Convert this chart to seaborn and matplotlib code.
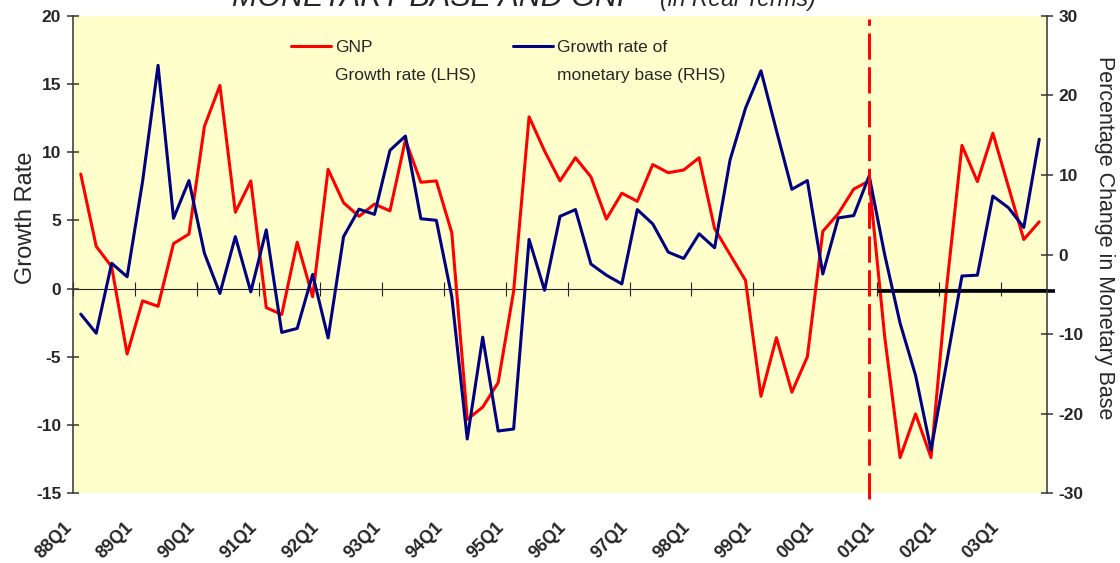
import numpy as np
import pandas as pd
import matplotlib
matplotlib.use("Agg")
import matplotlib.pyplot as plt
from matplotlib import font_manager
from matplotlib.lines import Line2D
from matplotlib.transforms import ScaledTranslation
import seaborn as sns

# %% Data, quarterly 88Q1 .. 03Q3
gnp_growth = [8.4, 3.1, 1.6, -4.8, -0.9, -1.3, 3.3, 4.0,
              11.9, 14.9, 5.6, 7.9, -1.4, -1.9, 3.4, -0.6,
              8.75, 6.3, 5.3, 6.2, 5.7, 10.9, 7.8, 7.9,
              4.1, -9.6, -8.7, -6.9, -0.2, 12.6, 10.1, 7.9,
              9.6, 8.2, 5.1, 7.0, 6.4, 9.1, 8.5, 8.7,
              9.6, 4.4, 2.5, 0.6, -7.9, -3.6, -7.6, -5.0,
              4.2, 5.5, 7.3, 7.9, -3.5, -12.4, -9.2, -12.4,
              0.0, 10.5, 7.85, 11.4, 7.5, 3.6, 4.9]
base_growth = [-7.5, -9.9, -1.1, -2.8, 9.2, 23.8, 4.55, 9.3,
               0.15, -4.9, 2.25, -4.7, 3.1, -9.8, -9.3, -2.5,
               -10.5, 2.25, 5.7, 5.05, 13.1, 14.9, 4.5, 4.3,
               -5.3, -23.2, -10.4, -22.2, -21.95, 1.9, -4.5, 4.8,
               5.65, -1.2, -2.6, -3.7, 5.65, 3.85, 0.3, -0.5,
               2.6, 0.85, 11.9, 18.4, 23.1, 15.6, 8.2, 9.3,
               -2.45, 4.6, 4.9, 9.9, 0.0, -8.65, -15.2, -24.6,
               -13.7, -2.7, -2.6, 7.35, 5.9, 3.4, 14.5]
quarters = [f"{y % 100:02d}Q{q}" for y in range(1988, 2004) for q in range(1, 5)][:len(gnp_growth)]
year_labels = ['88Q1', '89Q1', '90Q1', '91Q1', '92Q1', '93Q1', '94Q1', '95Q1',
               '96Q1', '97Q1', '98Q1', '99Q1', '00Q1', '01Q1', '02Q1', '03Q1']
break_quarter = '00Q4'   # where the dashed marker sits

df = pd.DataFrame({'quarter': quarters, 'gnp': gnp_growth, 'base': base_growth})
df['pos'] = np.arange(len(df))

# %% Style
sns.set_style('white')
plt.rcParams['font.family'] = ['Liberation Sans', 'DejaVu Sans']
plt.rcParams['axes.unicode_minus'] = False

# narrow face for tick labels / legend if it is installed
try:
    font_manager.findfont(font_manager.FontProperties(family='Liberation Sans Narrow'),
                          fallback_to_default=False)
    narrow = ['Liberation Sans Narrow']
    tick_size, xtick_size, leg_size = 14, 14, 15
except ValueError:
    narrow = ['Liberation Sans']
    tick_size, xtick_size, leg_size = 12.5, 13, 12.5

fig = plt.figure(figsize=(11.2, 5.63), dpi=100)
ax = fig.add_axes([0.0652, 0.1243, 0.8696, 0.8473])
ax.set_facecolor('#FFFFCC')

sns.lineplot(data=df, x='pos', y='gnp', ax=ax, color='#FF0000', linewidth=2.2)
ax2 = ax.twinx()
sns.lineplot(data=df, x='pos', y='base', ax=ax2, color='#000080', linewidth=2.2)

n = len(df)
ax.set_xlim(-0.5, n - 0.5)
ax.set_ylim(-15, 20)
ax2.set_ylim(-30, 30)
ax.set_yticks(np.arange(-15, 21, 5))
ax2.set_yticks(np.arange(-30, 31, 10))

# x labels at year boundaries, printed under the plot
ax.set_xticks([quarters.index(q) - 0.5 for q in year_labels])
ax.set_xticklabels(year_labels, rotation=45, ha='right', va='top',
                   rotation_mode='anchor', fontsize=xtick_size, fontweight='bold',
                   family=narrow)
ax.tick_params(axis='x', length=0, pad=18.5)
shift = ScaledTranslation(-10 / 100, 0, fig.dpi_scale_trans)
for lab in ax.get_xticklabels():
    lab.set_transform(lab.get_transform() + shift)

# zero line with crossing ticks
zero_ax = ax.secondary_xaxis(0, transform=ax.transData)
zero_ax.set_xticks([quarters.index(q) - 0.5 for q in year_labels])
zero_ax.tick_params(axis='x', direction='inout', length=9.5, width=0.8,
                    color='#222222', labelbottom=False)
zero_ax.spines['bottom'].set_linewidth(0.8)
zero_ax.spines['bottom'].set_color('#222222')

for a in (ax, ax2):
    a.spines['top'].set_visible(False)
    a.spines['bottom'].set_visible(False)
    for s in ('left', 'right'):
        a.spines[s].set_color('#333333')
        a.spines[s].set_linewidth(1.1)
ax.spines['right'].set_visible(False)
ax2.spines['left'].set_visible(False)

ax.tick_params(axis='y', direction='inout', length=9, width=1.1, color='#333333',
               labelsize=tick_size, pad=4)
ax2.tick_params(axis='y', direction='inout', length=9, width=1.1, color='#333333',
                labelsize=tick_size, pad=4)
for lab in ax.get_yticklabels() + ax2.get_yticklabels():
    lab.set_fontweight('bold')
    lab.set_family(narrow)

ax.set_xlabel('')
ax.set_ylabel('Growth Rate', fontsize=17)
ax.yaxis.set_label_coords(-0.037, 0.578)
ax2.set_ylabel('Percentage Change in Monetary Base', fontsize=15.5, rotation=270,
               va='bottom')
ax2.yaxis.set_label_coords(1.048, 0.536)

# dashed marker and black bar on the right
bx = quarters.index(break_quarter)
ax2.axvline(bx, ymin=-0.012, ymax=0.994, color='#FF0000', lw=2.1,
            dashes=(9, 2.6), clip_on=False, zorder=5)
ax.hlines(-0.18, bx + 0.6, n + 0.0, color='black', lw=2.6, clip_on=False, zorder=4)

# legend
red_h = Line2D([], [], color='#FF0000', lw=2.2)
blue_h = Line2D([], [], color='#000080', lw=2.2)
blank = Line2D([], [], color='none')
ax2.legend(handles=[red_h, blank, blue_h, blank],
           labels=['GNP', 'Growth rate (LHS)', 'Growth rate of', 'monetary base (RHS)'],
           ncol=2, loc='upper left', bbox_to_anchor=(0.224, 0.949), frameon=False,
           prop={'family': narrow, 'size': leg_size},
           handlelength=40 / (leg_size * 100 / 72), handletextpad=0.22,
           columnspacing=37 / (leg_size * 100 / 72),
           labelspacing=0.55 if narrow[0].endswith('Narrow') else 0.74,
           borderpad=0, borderaxespad=0)

# title (clipped at the top edge as in the source)
fig.text(232 / 1120, 1 - 6 / 563, 'MONETARY BASE AND GNP', style='italic',
         fontsize=22, ha='left', va='baseline')
fig.text(816 / 1120, 1 - 6 / 563, '(in Real Terms)', style='italic',
         fontsize=16.5, ha='right', va='baseline')

fig.savefig('out.png', dpi=100)
